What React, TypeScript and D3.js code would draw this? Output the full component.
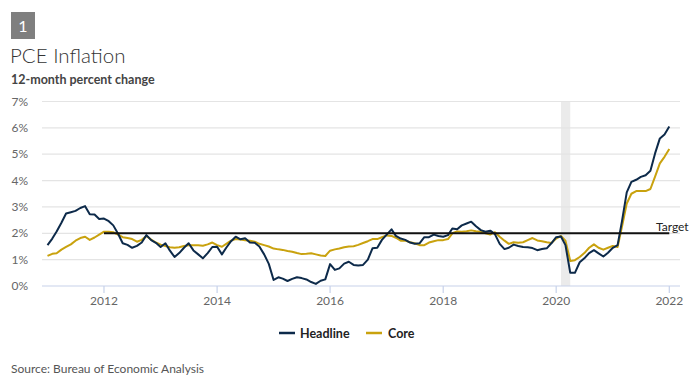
import React from "react";
import * as d3 from "d3";

const startYear = 2011;
const headline: number[] = [
  // 2011
  1.55, 1.8, 2.07, 2.4, 2.75, 2.8, 2.85, 2.96, 3.03, 2.72, 2.71, 2.54,
  // 2012
  2.56, 2.46, 2.3, 1.98, 1.62, 1.56, 1.45, 1.52, 1.65, 1.93, 1.74, 1.64,
  // 2013
  1.48, 1.62, 1.35, 1.1, 1.25, 1.45, 1.62, 1.35, 1.2, 1.05, 1.25, 1.48,
  // 2014
  1.49, 1.2, 1.45, 1.7, 1.87, 1.77, 1.81, 1.65, 1.64, 1.5, 1.2, 0.84,
  // 2015
  0.23, 0.33, 0.28, 0.19, 0.27, 0.33, 0.3, 0.25, 0.15, 0.08, 0.2, 0.25,
  // 2016
  0.83, 0.61, 0.67, 0.85, 0.92, 0.8, 0.78, 0.8, 1.0, 1.43, 1.45, 1.75,
  // 2017
  1.95, 2.15, 1.9, 1.8, 1.75, 1.65, 1.6, 1.62, 1.85, 1.85, 1.95, 1.9,
  // 2018
  1.87, 1.93, 2.18, 2.15, 2.3, 2.37, 2.44, 2.27, 2.12, 2.06, 2.1, 1.97,
  // 2019
  1.6, 1.4, 1.45, 1.57, 1.52, 1.48, 1.47, 1.44, 1.36, 1.4, 1.43, 1.62,
  // 2020
  1.85, 1.88, 1.55, 0.5, 0.5, 0.9, 1.05, 1.25, 1.36, 1.24, 1.12, 1.26,
  // 2021
  1.45, 1.55, 2.45, 3.55, 3.95, 4.03, 4.14, 4.2, 4.37, 5.03, 5.6, 5.75,
  // 2022
  6.05,
];

const core: number[] = [
  // 2011
  1.14, 1.22, 1.24, 1.38, 1.48, 1.58, 1.72, 1.82, 1.87, 1.75, 1.84, 1.95,
  // 2012
  2.06, 2.06, 2.04, 1.95, 1.85, 1.82, 1.78, 1.68, 1.75, 1.9, 1.76, 1.65,
  // 2013
  1.57, 1.52, 1.47, 1.45, 1.47, 1.52, 1.55, 1.55, 1.55, 1.53, 1.58, 1.65,
  // 2014
  1.55, 1.49, 1.6, 1.72, 1.78, 1.76, 1.74, 1.72, 1.68, 1.6, 1.55, 1.5,
  // 2015
  1.42, 1.39, 1.37, 1.33, 1.3, 1.25, 1.21, 1.22, 1.24, 1.2, 1.16, 1.14,
  // 2016
  1.34, 1.39, 1.42, 1.47, 1.5, 1.51, 1.56, 1.63, 1.7, 1.78, 1.78, 1.85,
  // 2017
  1.92, 1.9, 1.83, 1.72, 1.72, 1.66, 1.62, 1.55, 1.55, 1.65, 1.7, 1.74,
  // 2018
  1.74, 1.78, 2.0, 2.07, 2.06, 2.08, 2.11, 2.08, 2.06, 2.0, 1.95, 2.04,
  // 2019
  1.87, 1.72, 1.6, 1.66, 1.64, 1.66, 1.74, 1.82, 1.73, 1.7, 1.66, 1.63,
  // 2020
  1.8, 1.9, 1.72, 0.95, 0.98, 1.1, 1.25, 1.45, 1.58, 1.45, 1.38, 1.45,
  // 2021
  1.52, 1.48, 2.25, 3.13, 3.5, 3.6, 3.6, 3.6, 3.68, 4.15, 4.65, 4.9,
  // 2022
  5.2,
];

const yTicks = [0, 1, 2, 3, 4, 5, 6, 7];
const xTickYears = [2012, 2014, 2016, 2018, 2020, 2022];
const targetValue = 2;
const targetStart = new Date(2012, 0, 1);
const targetEnd = new Date(2022, 0, 1);
const recession = [new Date(2020, 1, 1), new Date(2020, 3, 1)];

const FONT = "Lato, 'Open Sans', sans-serif";

export default function App() {
  const width = 700;
  const height = 382;
  const x = d3
    .scaleTime()
    .domain([new Date(startYear, 0, 1), new Date(2022, 0, 1)])
    .range([47.5, 669.3]);
  const y = d3.scaleLinear().domain([0, 7]).range([286, 101.5]);

  const dates = headline.map((_, i) => new Date(startYear, i, 1));
  const line = d3
    .line<number>()
    .x((_, i) => x(dates[i]))
    .y((d) => y(d));

  return (
    <svg
      width={width}
      height={height}
      style={{ position: "absolute", left: 0, top: 0, background: "#fff" }}
      fontFamily={FONT}
    >
      <rect x={11} y={12} width={24} height={27} fill="#7f7f7f" />
      <text x={23} y={31.5} textAnchor="middle" fill="#fff" fontSize={16}>
        1
      </text>
      <text x={10} y={63} fill="#333" fontSize={20.5} fontWeight={300}>
        PCE Inflation
      </text>
      <text x={11} y={84} fill="#444" fontSize={12.5} fontWeight={700}>
        12-month percent change
      </text>

      {/* recession shading */}
      <rect
        x={x(recession[0])}
        y={y(7)}
        width={x(recession[1]) - x(recession[0])}
        height={y(0) - y(7)}
        fill="#ebebeb"
      />

      {yTicks.map((t) => (
        <g key={t}>
          {t > 0 && (
            <line x1={42} x2={680} y1={y(t)} y2={y(t)} stroke="#e4e4e4" strokeWidth={1.2} />
          )}
          <text
            x={28}
            y={y(t)}
            dy="0.35em"
            textAnchor="end"
            fill="#666"
            fontSize={12}
          >
            {t}%
          </text>
        </g>
      ))}
      <line x1={42} x2={680} y1={y(0)} y2={y(0)} stroke="#c7d2ea" strokeWidth={1.2} />
      {xTickYears.map((yr) => {
        const xx = x(new Date(yr, 0, 1));
        return (
          <g key={yr}>
            <line x1={xx} x2={xx} y1={y(0)} y2={y(0) + 7} stroke="#c7d2ea" strokeWidth={1.2} />
            <text x={xx} y={305} textAnchor="middle" fill="#666" fontSize={12}>
              {yr}
            </text>
          </g>
        );
      })}

      <path d={line(core) || ""} fill="none" stroke="#c9a20e" strokeWidth={2} strokeLinejoin="round" />
      <path d={line(headline) || ""} fill="none" stroke="#0d2a4a" strokeWidth={2} strokeLinejoin="round" />

      <line
        x1={x(targetStart)}
        x2={x(targetEnd)}
        y1={y(targetValue)}
        y2={y(targetValue)}
        stroke="#111"
        strokeWidth={2}
      />
      <text x={656} y={230.5} fill="#222" fontSize={12}>
        Target
      </text>

      {/* legend */}
      <line x1={279} x2={295} y1={333} y2={333} stroke="#0d2a4a" strokeWidth={2.5} />
      <text x={300} y={337.5} fill="#222" fontSize={12.5} fontWeight={700}>
        Headline
      </text>
      <line x1={366} x2={382} y1={333} y2={333} stroke="#c9a20e" strokeWidth={2.5} />
      <text x={388} y={337.5} fill="#222" fontSize={12.5} fontWeight={700}>
        Core
      </text>

      <text x={11} y={373} fill="#555" fontSize={12}>
        Source: Bureau of Economic Analysis
      </text>
    </svg>
  );
}
